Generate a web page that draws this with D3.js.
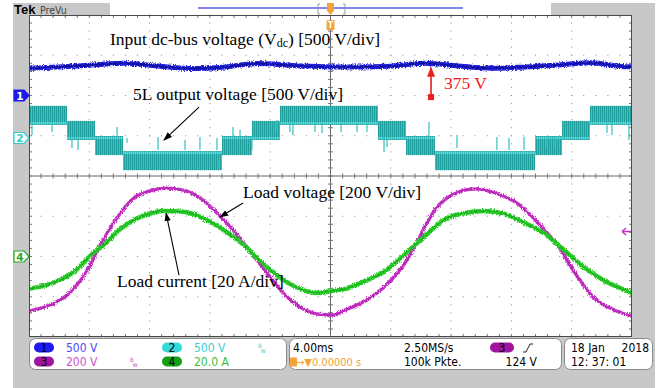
<!DOCTYPE html>
<html><head><meta charset="utf-8">
<script src="https://cdn.jsdelivr.net/npm/d3@7/dist/d3.min.js"></script>
<style>body{margin:0;background:#fff}svg{display:block}</style>
</head><body><svg id="c" width="668" height="388"></svg>
<script>
// ---------------- data (read from the screen shot) ----------------
// time in ms (4 ms/div, trigger at 0), values in physical units
const dcTime = [-20,-18.08,-15.82,-13.63,-11.44,-9.19,-7.0,-4.81,-2.55,-0.36,1.82,4.08,6.27,8.46,10.71,12.9,15.09,17.35,19.54,20];
const dcVolt = [338,354,379,400,366,335,354,397,373,358,354,366,400,366,338,354,379,407,358,358];

// 5-level output: PWM bands between two adjacent levels (V)
const stepStart = [-20,-17.48,-15.62,-13.76,-7.20,-5.21,-3.35,3.15,5.01,6.93,13.57,15.36,17.21];
const stepEnd   = [-17.48,-15.62,-13.76,-7.20,-5.21,-3.35,3.15,5.01,6.93,13.57,15.36,17.21,20];
const stepLow   = [187.5,0,-187.5,-375,-187.5,0,187.5,0,-187.5,-375,-187.5,0,187.5];
const stepHigh  = [375,187.5,0,-187.5,0,187.5,375,187.5,0,-187.5,0,187.5,375];
const spikeTime = [-19.80,-18.47,-17.15,-16.75,-14.16,-13.50,-11.44,-9.65,-8.66,-7.53,-7.46,-6.47,-6.00,-5.21,-3.55,-2.69,-2.49,-1.03,-0.56,0.70,1.76,2.42,3.55,3.75,6.53,8.39,11.04,11.84,12.84,14.36,14.83,18.34,18.67,19.80];
const spikeFrom = [186,186,0,0,137,0,12,-25,12,0,-273,137,99,0,224,199,186,199,186,186,186,186,12,0,199,37,12,0,12,0,12,199,199,161];
const spikeTo   = [37,75,-124,-149,12,-62,-149,-149,-149,-149,-360,-25,0,-149,75,75,37,75,62,75,75,75,-174,-112,12,-124,-149,-149,-149,-124,-124,62,37,-25];

const loadVTime = [-20.0,-18.08,-17.48,-16.95,-16.15,-15.29,-14.16,-13.10,-11.97,-10.85,-9.78,-8.66,-7.53,-6.47,-5.14,-4.21,-3.15,-2.02,-0.90,0.17,0.96,2.29,3.62,4.94,5.61,6.27,6.93,8.06,9.59,11.11,12.44,13.77,15.09,16.22,17.35,18.67,20.0];
const loadVVal  = [-271,-222,-192,-152,-72,55,192,288,326,340,330,291,216,132,7,-82,-181,-251,-286,-291,-266,-221,-147,-32,52,148,232,305,336,311,261,167,52,-82,-196,-261,-296];

const loadITime = [-20.0,-18.08,-16.95,-15.82,-14.96,-14.10,-13.16,-12.31,-10.98,-9.65,-8.33,-7.00,-5.67,-4.81,-3.48,-2.16,-0.83,0.10,0.96,2.29,3.62,4.94,6.27,7.60,8.92,10.25,11.58,12.90,14.23,15.56,16.88,18.21,20.0];
const loadIVal  = [-16.1,-12.2,-7.2,1.2,6.2,12.7,17.6,20.6,22.6,22.1,18.6,12.7,5.2,-1.2,-9.7,-15.7,-18.1,-17.1,-16.1,-12.2,-7.2,1.2,10.2,18.6,21.6,22.6,21.1,16.6,11.2,2.7,-5.7,-12.2,-18.1];

// channel settings: [position in div, units per div]
const chPos   = [2, 0.944, -2, -2];
const chScale = [500, 500, 200, 20];
const chLabel = ["500 V","500 V","200 V","20.0 A"];
const trigLevel = 124;  // V on ch3

// ---------------- drawing ----------------
const svg = d3.select('#c');
const defs = svg.append('defs');
const x = d3.scaleLinear().domain([-20,20]).range([29,632]);
const yd = d3.scaleLinear().domain([-4,4]).range([337,15]);
const yc = (ch, v) => yd(chPos[ch] + v / chScale[ch]);

// filters and patterns
const f = defs.append('filter').attr('id','fuzz').attr('filterUnits','userSpaceOnUse')
  .attr('x',0).attr('y',0).attr('width',668).attr('height',388);
f.append('feTurbulence').attr('type','fractalNoise').attr('baseFrequency','0.9 0.6').attr('numOctaves',2).attr('seed',4).attr('result','n');
f.append('feDisplacementMap').attr('in','SourceGraphic').attr('in2','n').attr('scale',4).attr('xChannelSelector','R').attr('yChannelSelector','G');
const pat = defs.append('pattern').attr('id','pwm').attr('patternUnits','userSpaceOnUse').attr('width',2).attr('height',5);
pat.append('rect').attr('width',2).attr('height',5).attr('fill','#36c4c4');
pat.append('rect').attr('width',1).attr('height',5).attr('fill','#1f9e9e');
defs.append('clipPath').attr('id','plotclip').append('rect').attr('x',29).attr('y',15).attr('width',603).attr('height',322);
const mk = defs.append('marker').attr('id','ah').attr('viewBox','0 0 10 10').attr('refX',9).attr('refY',5)
  .attr('markerWidth',9).attr('markerHeight',9).attr('markerUnits','userSpaceOnUse').attr('orient','auto');
mk.append('path').attr('d','M0,1.5 L10,5 L0,8.5 Z').attr('fill','#000');
const mkr = defs.append('marker').attr('id','ahr').attr('viewBox','0 0 10 10').attr('refX',9).attr('refY',5)
  .attr('markerWidth',10).attr('markerHeight',10).attr('markerUnits','userSpaceOnUse').attr('orient','auto');
mkr.append('path').attr('d','M0,1 L10,5 L0,9 Z').attr('fill','#ee1c1c');

// background frame
svg.append('rect').attr('width',668).attr('height',388).attr('fill','#fff');
svg.append('rect').attr('x',13).attr('y',3).attr('width',642).attr('height',385).attr('fill','#c8c8c8');
svg.append('rect').attr('x',110).attr('y',3).attr('width',441).attr('height',12).attr('fill','#fff');
svg.append('rect').attr('x',29).attr('y',15).attr('width',603).attr('height',322).attr('fill','#fff');

// header
svg.append('text').attr('x',14).attr('y',14).text('Tek')
  .attr('font-family','Liberation Sans, Arial, sans-serif').attr('font-weight','bold').attr('font-size',13).attr('fill','#000');
svg.append('text').attr('x',40).attr('y',13.5).text('PreVu')
  .attr('font-family','DejaVu Sans Condensed, DejaVu Sans, sans-serif').attr('font-size',10.5).attr('fill','#444');
svg.append('line').attr('x1',198).attr('x2',463).attr('y1',8).attr('y2',8).attr('stroke','#5a5ae8').attr('stroke-width',1.5);
[318,345].forEach(bx => svg.append('path')
  .attr('d', bx < 331 ? `M${bx+2},4 h-2 v10 h2` : `M${bx-2},4 h2 v10 h-2`)
  .attr('fill','none').attr('stroke','#9a9a9a').attr('stroke-width',1));
svg.append('rect').attr('x',x(0)-3.5).attr('y',3).attr('width',7).attr('height',8).attr('fill','#f2a43a');
svg.append('path').attr('d',`M${x(0)-4},10 h8 l-4,5 z`).attr('fill','#f2a43a');

// grid
const g = svg.append('g');
const tMinor = d3.range(-25,26).map(k => k*0.8);          // ms, 1/5 div
const dMinor = d3.range(-20,21).map(k => k*0.2);          // div, 1/5 div
const tMajor = d3.range(-4,5).map(k => k*4).filter(v => v!==0);
const dMajor = d3.range(-3,4).filter(v => v!==0);
tMajor.forEach(t => dMinor.forEach(d => g.append('rect').attr('x',x(t)-0.5).attr('y',yd(d)-0.5).attr('width',1).attr('height',1).attr('fill','#8a8a8a')));
dMajor.forEach(d => tMinor.filter(t=>t>-20&&t<20).forEach(t => g.append('rect').attr('x',x(t)-0.5).attr('y',yd(d)-0.5).attr('width',1).attr('height',1).attr('fill','#8a8a8a')));
// center cross with ticks
g.append('line').attr('x1',x(-20)).attr('x2',x(20)).attr('y1',yd(0)).attr('y2',yd(0)).attr('stroke','#666').attr('stroke-width',1);
g.append('line').attr('x1',x(0)).attr('x2',x(0)).attr('y1',yd(4)).attr('y2',yd(-4)).attr('stroke','#666').attr('stroke-width',1);
tMinor.filter(t=>t>-20&&t<20).forEach(t => {
  g.append('line').attr('x1',x(t)).attr('x2',x(t)).attr('y1',yd(0)-2.5).attr('y2',yd(0)+2.5).attr('stroke','#777');
  g.append('line').attr('x1',x(t)).attr('x2',x(t)).attr('y1',yd(4)).attr('y2',yd(4)+3).attr('stroke','#777');
  g.append('line').attr('x1',x(t)).attr('x2',x(t)).attr('y1',yd(-4)).attr('y2',yd(-4)-3).attr('stroke','#777');
});
dMinor.filter(d=>d>-4&&d<4).forEach(d => {
  g.append('line').attr('y1',yd(d)).attr('y2',yd(d)).attr('x1',x(0)-2.5).attr('x2',x(0)+2.5).attr('stroke','#777');
  g.append('line').attr('y1',yd(d)).attr('y2',yd(d)).attr('x1',x(-20)).attr('x2',x(-20)+3).attr('stroke','#777');
  g.append('line').attr('y1',yd(d)).attr('y2',yd(d)).attr('x1',x(20)).attr('x2',x(20)-3).attr('stroke','#777');
});

// traces
const tr = svg.append('g').attr('clip-path','url(#plotclip)');
const line = (ch) => d3.line().x(d => x(d[0])).y(d => yc(ch, d[1])).curve(d3.curveMonotoneX);

// ch1 dc bus
const dcData = d3.zip(dcTime, dcVolt);
tr.append('path').attr('d', line(0)(dcData)).attr('fill','none').attr('stroke','#2323d8').attr('stroke-width',5).attr('filter','url(#fuzz)');
tr.append('path').attr('d', line(0)(dcData)).attr('fill','none').attr('stroke','#0c0c9a').attr('stroke-width',1.6).attr('filter','url(#fuzz)');

// ch2 staircase
const steps = stepStart.map((s,i) => ({s, e: stepEnd[i], lo: stepLow[i], hi: stepHigh[i]}));
tr.selectAll('rect.band').data(steps).join('rect').attr('class','band')
  .attr('x', d => x(d.s)).attr('width', d => x(d.e) - x(d.s))
  .attr('y', d => yc(1, d.hi) - 2).attr('height', d => yc(1, d.lo) - yc(1, d.hi) + 4)
  .attr('fill','url(#pwm)');
tr.selectAll('line.inner').data(steps).join('line').attr('class','inner')
  .attr('x1', d => x(d.s)).attr('x2', d => x(d.e))
  .attr('y1', d => yc(1, Math.abs(d.lo) < Math.abs(d.hi) ? d.lo : d.hi))
  .attr('y2', d => yc(1, Math.abs(d.lo) < Math.abs(d.hi) ? d.lo : d.hi))
  .attr('stroke','#5ee0e0').attr('stroke-width',1.5).attr('opacity',0.85);
const spikes = spikeTime.map((t,i) => [t, spikeFrom[i], spikeTo[i]]);
tr.selectAll('line.spike').data(spikes).join('line').attr('class','spike')
  .attr('x1', d => x(d[0])).attr('x2', d => x(d[0]))
  .attr('y1', d => yc(1, d[1])).attr('y2', d => yc(1, d[2]))
  .attr('stroke','#35c0c0').attr('stroke-width',1.2);

// ch3 load voltage, ch4 load current
const vData = d3.zip(loadVTime, loadVVal);
const iData = d3.zip(loadITime, loadIVal);
tr.append('path').attr('d', line(2)(vData)).attr('fill','none').attr('stroke','#c832c8').attr('stroke-width',3.4).attr('filter','url(#fuzz)');
tr.append('path').attr('d', line(2)(vData)).attr('fill','none').attr('stroke','#8a1c8a').attr('stroke-width',0.8).attr('opacity',0.6).attr('filter','url(#fuzz)');
tr.append('path').attr('d', line(3)(iData)).attr('fill','none').attr('stroke','#2ccc2c').attr('stroke-width',4.5).attr('filter','url(#fuzz)');
tr.append('path').attr('d', line(3)(iData)).attr('fill','none').attr('stroke','#138a13').attr('stroke-width',1).attr('opacity',0.6).attr('filter','url(#fuzz)');

// plot border
svg.append('rect').attr('x',29.5).attr('y',15.5).attr('width',602).attr('height',321).attr('fill','none').attr('stroke','#4a4a4a').attr('stroke-width',1);

// trigger marker under top border
svg.append('rect').attr('x',x(0)-4).attr('y',20).attr('width',8).attr('height',10).attr('rx',1).attr('fill','#f2a43a');
svg.append('text').attr('x',x(0)).attr('y',28).attr('text-anchor','middle').text('T')
  .attr('font-family','DejaVu Sans, sans-serif').attr('font-size',8).attr('font-weight','bold').attr('fill','#fff');

// channel ground markers on the left
const markerDefs = [
  {ch:0, label:'1', fill:'#1c1ce8', stroke:'#1c1ce8', txt:'#fff'},
  {ch:1, label:'2', fill:'#fff', stroke:'#33cccc', txt:'#33cccc'},
  {ch:3, label:'4', fill:'#fff', stroke:'#22aa22', txt:'#22aa22'}
];
markerDefs.forEach(m => {
  const yy = yc(m.ch, 0);
  svg.append('path').attr('d',`M14,${yy-5.5} H24 L29,${yy} L24,${yy+5.5} H14 Z`)
    .attr('fill',m.fill).attr('stroke',m.stroke).attr('stroke-width',1.2);
  svg.append('text').attr('x',20).attr('y',yy+4).attr('text-anchor','middle').text(m.label)
    .attr('font-family','DejaVu Sans, sans-serif').attr('font-size',10.5).attr('font-weight','bold').attr('fill',m.txt);
});
// trigger level arrow (ch3) on the right
{
  const yy = yc(2, trigLevel);
  svg.append('path').attr('d',`M622,${yy} l4,-3.5 M622,${yy} l4,3.5 M622,${yy} H631`).attr('stroke','#c832c8').attr('stroke-width',1.4).attr('fill','none');
}

// annotations (positions in time / divisions)
const serif = 'Liberation Serif, Times New Roman, serif';
const ann = svg.append('g').attr('font-family',serif).attr('font-size',17.5).attr('fill','#000');
const t1 = ann.append('text').attr('x',x(-14.63)).attr('y',yd(3.25));
t1.append('tspan').text('Input dc-bus voltage (V');
t1.append('tspan').attr('font-size',12).attr('dy',2).text('dc');
t1.append('tspan').attr('dy',-2).text(') [500 V/div]');
ann.append('text').attr('x',x(-13.10)).attr('y',yd(1.89)).text('5L output voltage [500 V/div]');
ann.append('text').attr('x',x(-5.80)).attr('y',yd(-0.55)).text('Load voltage [200 V/div]');
ann.append('text').attr('x',x(-14.16)).attr('y',yd(-2.76)).text('Load current [20 A/div]');
const arrows = [
  [-8.72, 1.71, -11.05, 0.89],
  [-5.80, -0.67, -7.33, -1.02],
  [-10.05, -2.46, -10.91, -0.92]
];
arrows.forEach(a => svg.append('line').attr('x1',x(a[0])).attr('y1',yd(a[1])).attr('x2',x(a[2])).attr('y2',yd(a[3]))
  .attr('stroke','#000').attr('stroke-width',1.1).attr('marker-end','url(#ah)'));
// 375 V marker
svg.append('line').attr('x1',x(6.67)).attr('x2',x(6.67)).attr('y1',yd(1.96)).attr('y2',yd(2.69))
  .attr('stroke','#ee1c1c').attr('stroke-width',1.6).attr('marker-end','url(#ahr)');
svg.append('rect').attr('x',x(6.67)-3).attr('y',yd(1.96)-3).attr('width',6).attr('height',6).attr('fill','#ee1c1c');
svg.append('text').attr('x',x(7.53)).attr('y',yd(2.16)).text('375 V')
  .attr('font-family',serif).attr('font-size',17.5).attr('fill','#ee1c1c');

// bottom info panel
const cond = 'DejaVu Sans Condensed, Liberation Sans Narrow, DejaVu Sans, sans-serif';
const panel = svg.append('g').attr('font-family',cond).attr('font-size',12);
[[29.5,257],[289.5,272],[564.5,88]].forEach(b => panel.append('rect').attr('x',b[0]).attr('y',338.5).attr('width',b[1]).attr('height',31)
  .attr('rx',6).attr('fill','#fff').attr('stroke','#8a8a8a').attr('stroke-width',1));
const pillC = ['#1c1cf0','#33dada','#a014a0','#14a014'];
const txtC  = ['#4848ff','#3cd0d0','#cc55cc','#3cbf3c'];
const cx = [34,162,34,162], cyRow = [342.5,342.5,356.5,356.5];
[0,1,2,3].forEach(i => {
  panel.append('rect').attr('x',cx[i]).attr('y',cyRow[i]).attr('width',20).attr('height',10).attr('rx',5).attr('fill',pillC[i]);
  panel.append('text').attr('x',cx[i]+10).attr('y',cyRow[i]+9).attr('text-anchor','middle').text(String(i+1)).attr('fill','#000');
  panel.append('text').attr('x',cx[i]+32).attr('y',cyRow[i]+9.5).text(chLabel[i]).attr('fill',txtC[i]);
});
// bandwidth icons
[[258,342.5,'#3cd0d0'],[130,356.5,'#cc55cc']].forEach(b => {
  panel.append('text').attr('x',b[0]).attr('y',b[1]+5).text('B').attr('font-size',6).attr('fill',b[2]);
  panel.append('text').attr('x',b[0]+2.5).attr('y',b[1]+10).text('w').attr('font-size',7).attr('fill',b[2]);
});
panel.append('text').attr('x',293).attr('y',352).text('4.00ms').attr('fill','#000');
panel.append('rect').attr('x',290).attr('y',357.5).attr('width',7).attr('height',9).attr('rx',1).attr('fill','#f2a43a');
panel.append('text').attr('x',296).attr('y',366).text('→▼0.00000 s').attr('fill','#f2a43a').attr('font-size',11);
panel.append('text').attr('x',404).attr('y',352).text('2.50MS/s').attr('fill','#000');
panel.append('text').attr('x',404).attr('y',366).text('100k Pkte.').attr('fill','#000');
panel.append('rect').attr('x',490).attr('y',342.5).attr('width',24).attr('height',10).attr('rx',5).attr('fill','#a014a0');
panel.append('text').attr('x',502).attr('y',351.5).attr('text-anchor','middle').text('3').attr('fill','#000');
panel.append('path').attr('d','M523,352 h3 l4,-8 h3').attr('fill','none').attr('stroke','#222').attr('stroke-width',1);
panel.append('text').attr('x',537).attr('y',366).attr('text-anchor','end').text(trigLevel + ' V').attr('fill','#000');
panel.append('text').attr('x',571).attr('y',352).text('18 Jan').attr('fill','#000');
panel.append('text').attr('x',649).attr('y',352).attr('text-anchor','end').text('2018').attr('fill','#000');
panel.append('text').attr('x',571).attr('y',366).text('12: 37: 01').attr('fill','#000');
</script></body></html>
